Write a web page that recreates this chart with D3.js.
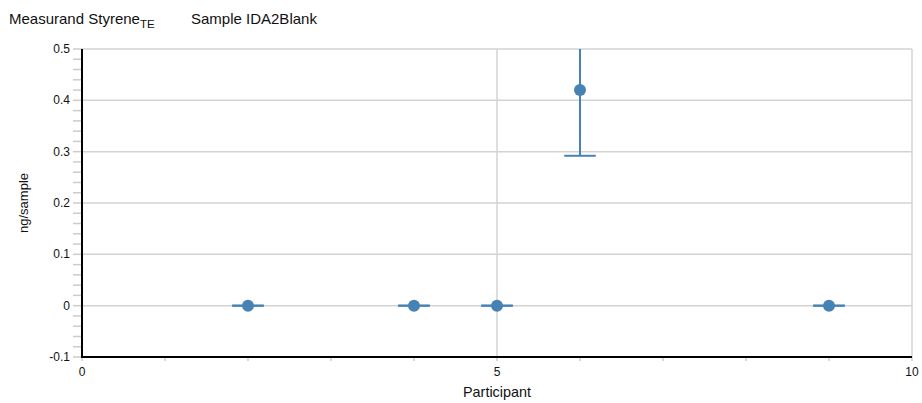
<!DOCTYPE html>
<html><head><meta charset="utf-8">
<script src="https://cdn.jsdelivr.net/npm/d3@7"></script>
<style>body{margin:0;background:#fff;} text{font-family:"Liberation Sans",Arial,sans-serif;}</style>
</head><body><svg id="c" width="922" height="403"></svg>
<script>
const participants = [2, 4, 5, 6, 9];
const values = [0, 0, 0, 0.42, 0];
const lowers = [0, 0, 0, 0.292, 0];
const uppers = [0, 0, 0, 0.55, 0];
const xTickLabels = [0, 5, 10];
const yTickLabels = [-0.1, 0, 0.1, 0.2, 0.3, 0.4, 0.5];

const svg = d3.select("#c");
const L = 82, R = 912, T = 49, B = 357;
const x = d3.scaleLinear().domain([0, 10]).range([L, R]);
const y = d3.scaleLinear().domain([-0.1, 0.5]).range([B, T]);
const color = "#4682b4";

// title
const t1 = svg.append("text").attr("x", 9).attr("y", 24).attr("font-size", 15).attr("fill", "#111");
t1.append("tspan").text("Measurand Styrene");
t1.append("tspan").attr("dy", 4).attr("font-size", 11.5).text("TE");
svg.append("text").attr("x", 191).attr("y", 24).attr("font-size", 15).attr("fill", "#111").text("Sample IDA2Blank");

// grid
svg.append("g").selectAll("line").data(yTickLabels.filter(v => v > -0.1)).join("line")
  .attr("x1", L).attr("x2", R).attr("y1", d => y(d)).attr("y2", d => y(d))
  .attr("stroke", "#d3d3d3").attr("stroke-width", 1.5);
svg.append("g").selectAll("line").data(xTickLabels.filter(v => v > 0)).join("line")
  .attr("x1", d => x(d)).attr("x2", d => x(d)).attr("y1", T).attr("y2", B)
  .attr("stroke", "#d3d3d3").attr("stroke-width", 1.5);

// y minor ticks
const yMinor = d3.range(-0.1, 0.5001, 0.02);
svg.append("g").selectAll("line").data(yMinor).join("line")
  .attr("x1", L - 9).attr("x2", L).attr("y1", d => y(d)).attr("y2", d => y(d))
  .attr("stroke", "#cccccc").attr("stroke-width", 1.5);
// x minor ticks
svg.append("g").selectAll("line").data(d3.range(0, 11, 1)).join("line")
  .attr("x1", d => x(d)).attr("x2", d => x(d)).attr("y1", B).attr("y2", B + 4)
  .attr("stroke", "#cccccc").attr("stroke-width", 1.5);

// y axis labels
svg.append("g").selectAll("text").data(yTickLabels).join("text")
  .attr("x", L - 12).attr("y", d => y(d) + 4).attr("text-anchor", "end")
  .attr("font-size", 12).attr("fill", "#111").text(d => String(+d.toFixed(1)));
// x axis labels
svg.append("g").selectAll("text").data(xTickLabels).join("text")
  .attr("x", d => x(d)).attr("y", B + 19).attr("text-anchor", "middle")
  .attr("font-size", 12).attr("fill", "#111").text(d => d);

// axes lines
svg.append("line").attr("x1", L).attr("x2", L).attr("y1", T).attr("y2", B + 1).attr("stroke", "#000").attr("stroke-width", 2);
svg.append("line").attr("x1", L - 1).attr("x2", R).attr("y1", B).attr("y2", B).attr("stroke", "#000").attr("stroke-width", 2);

// axis titles
svg.append("text").attr("transform", `translate(28,${(T + B) / 2}) rotate(-90)`).attr("text-anchor", "middle")
  .attr("font-size", 13).attr("fill", "#111").text("ng/sample");
svg.append("text").attr("x", x(5)).attr("y", 397).attr("text-anchor", "middle")
  .attr("font-size", 14.4).attr("fill", "#111").text("Participant");

// error bars
svg.append("clipPath").attr("id", "clip").append("rect").attr("x", L).attr("y", T).attr("width", R - L).attr("height", B - T);
const g = svg.append("g").attr("clip-path", "url(#clip)");
const data = participants.map((p, i) => ({ p, v: values[i], lo: lowers[i], hi: uppers[i] }));
const capW = x(0.19) - x(0);
g.selectAll(".eb").data(data).join("line")
  .attr("x1", d => x(d.p)).attr("x2", d => x(d.p)).attr("y1", d => y(d.lo)).attr("y2", d => y(d.hi))
  .attr("stroke", color).attr("stroke-width", 2);
g.selectAll(".capl").data(data).join("line")
  .attr("x1", d => x(d.p) - capW).attr("x2", d => x(d.p) + capW).attr("y1", d => y(d.lo)).attr("y2", d => y(d.lo))
  .attr("stroke", color).attr("stroke-width", 2);
g.selectAll(".caph").data(data).join("line")
  .attr("x1", d => x(d.p) - capW).attr("x2", d => x(d.p) + capW).attr("y1", d => y(d.hi)).attr("y2", d => y(d.hi))
  .attr("stroke", color).attr("stroke-width", 2);
g.selectAll("circle").data(data).join("circle")
  .attr("cx", d => x(d.p)).attr("cy", d => y(d.v)).attr("r", 6).attr("fill", color);
</script></body></html>
